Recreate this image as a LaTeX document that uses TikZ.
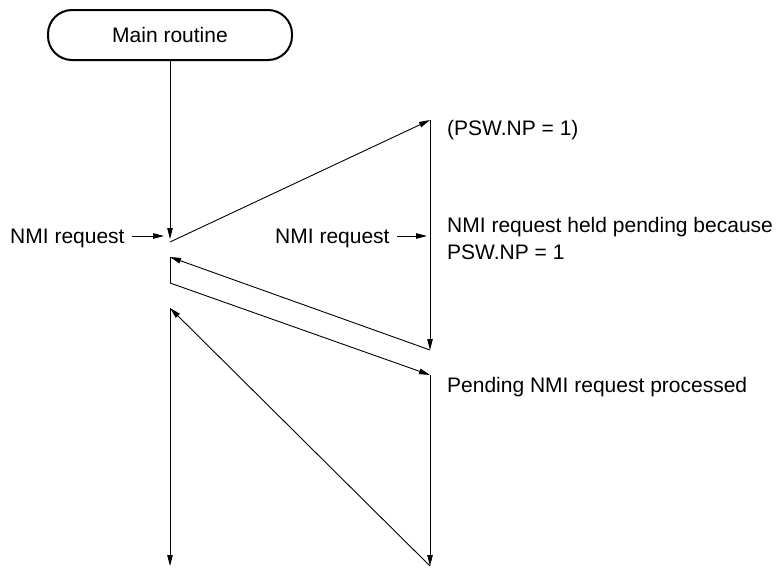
\documentclass[tikz,border=0pt]{standalone}
\usepackage{fontspec}
\setmainfont{Liberation Sans}
\usetikzlibrary{arrows.meta}

\begin{document}
\begin{tikzpicture}[x=1pt,y=-1pt,
  flow/.style={line width=0.9pt, -{Triangle[length=11pt,width=5.5pt]}},
  plain/.style={line width=0.9pt},
  lbl/.style={font=\fontsize{21}{25}\selectfont, inner sep=0pt, anchor=base west},
  terminal/.style={draw, line width=2pt, rounded corners=24pt, minimum width=244pt,
    minimum height=50pt, font=\fontsize{21}{25}\selectfont}]
  \useasboundingbox (0,0) rectangle (784,568);

  % start terminal
  \node[terminal] (main) at (170,35) {Main routine};

  % time-line points of the main routine (left) and the handler (right)
  \coordinate (m1) at (170,239);
  \coordinate (m2) at (170,242);
  \coordinate (m3) at (170,257);
  \coordinate (m4) at (170,283);
  \coordinate (m5) at (170,308);
  \coordinate (m6) at (170,566);
  \coordinate (h1) at (430,120);
  \coordinate (h2) at (430,350);
  \coordinate (h3) at (430,375);
  \coordinate (h4) at (430,566);

  % main routine until the first NMI
  \draw[flow] (main.south -| m1) -- (m1);
  % first NMI service
  \draw[flow] (m2) -- (h1);
  \draw[flow] (h1) -- (h2);
  \draw[flow] (h2) -- (m3);
  % pending NMI accepted
  \draw[plain] (m3) -- (m4);
  \draw[flow] (m4) -- (h3);
  \draw[flow] (h3) -- (h4);
  \draw[flow] (h4) -- (m5);
  \draw[flow] (m5) -- (m6);

  % request inputs
  \node[lbl] (req1) at (10,243) {NMI request};
  \coordinate (req1end) at (164,236);
  \draw[flow] (req1.east |- req1end) ++(7,0) coordinate (req1start) -- (req1end);
  \node[lbl] (req2) at (275,243) {NMI request};
  \coordinate (req2end) at (427,236);
  \draw[flow] (req2.east |- req2end) ++(7,0) coordinate (req2start) -- (req2end);

  % notes on the handler side
  \node[lbl] (np) at (447,135) {(PSW.NP = 1)};
  \node[lbl] (held1) at (447,232) {NMI request held pending because};
  \node[lbl] (held2) at (447,259) {PSW.NP = 1};
  \node[lbl] (proc) at (447,392) {Pending NMI request processed};
\end{tikzpicture}
\end{document}
